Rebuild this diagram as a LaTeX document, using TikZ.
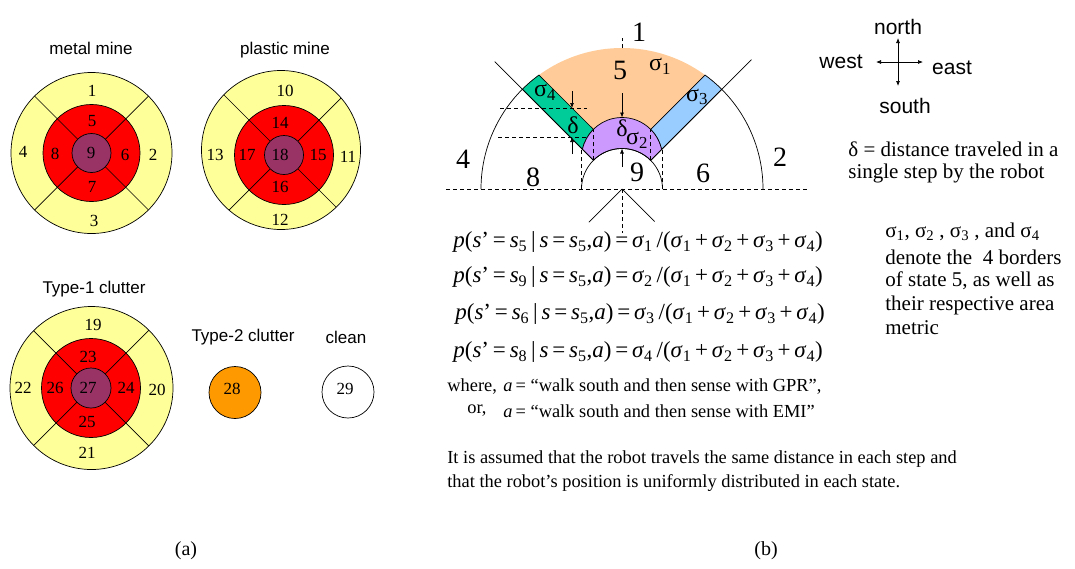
\documentclass[tikz,border=0pt]{standalone}
\usepackage{fontspec}
\setmainfont{Liberation Serif}
\newfontfamily\arialf{Liberation Sans}
\usetikzlibrary{arrows.meta}
\definecolor{ylw}{HTML}{FFFF99}
\definecolor{rd}{HTML}{FF0000}
\definecolor{prp}{HTML}{993366}
\definecolor{orng}{HTML}{FF9900}
\definecolor{peach}{HTML}{FFCC99}
\definecolor{grn}{HTML}{00CC99}
\definecolor{blu}{HTML}{99CCFF}
\definecolor{lav}{HTML}{CC99FF}
\newcommand{\fsz}[1]{\fontsize{#1}{#1}\selectfont}
\newcommand{\iv}[1]{\textit{#1}}
\newcommand{\mysub}[1]{\textsubscript{#1}}
\newcommand{\eqline}[2]{\iv{p}(\iv{s}'\,=\,\iv{s}\mysub{#1}\,|\,\iv{s}\,=\,\iv{s}\mysub{5},\iv{a})\,=\,\iv{σ}\mysub{#2}\,/(\iv{σ}\mysub{1}\,+\,\iv{σ}\mysub{2}\,+\,\iv{σ}\mysub{3}\,+\,\iv{σ}\mysub{4})}
% #1 outer centre, #2 outer r, #3 inner centre, #4 red r, #5 purple r
\newcommand{\minering}[5]{%
  \fill[ylw] #1 circle[radius=#2];
  \filldraw[fill=rd] #3 circle[radius=#4];
  \begin{scope}
    \clip #1 circle[radius=#2];
    \foreach \a in {45,135,225,315} \draw[shift={#3}] (\a:#5) -- (\a:120);
  \end{scope}
  \draw #1 circle[radius=#2];
  \filldraw[fill=prp] #3 circle[radius=#5];
}
\tikzset{
  num/.style={font=\fsz{17}, inner sep=0pt},
  ttl/.style={font=\arialf\fsz{17}, inner sep=0pt},
  big/.style={font=\fsz{28}, inner sep=0pt},
  sig/.style={font=\fsz{24}, inner sep=0pt},
  txt/.style={font=\fsz{21}, inner sep=0pt, anchor=west},
  eqn/.style={font=\fsz{23}, inner sep=0pt, anchor=west},
  btxt/.style={font=\fsz{18.4}, inner sep=0pt, anchor=west},
  cmp/.style={font=\arialf\fsz{21}, inner sep=0pt},
  dsh/.style={dash pattern=on 4pt off 3pt},
  arr/.style={-{Latex[length=5pt,width=4pt]}},
}
\begin{document}
\begin{tikzpicture}[x=1pt,y=-1pt,line width=0.7pt]
\useasboundingbox (0,0) rectangle (1075,568);
% ---------------- part (a) ----------------
\minering{(91.5,153)}{80.5}{(91.5,153)}{48.5}{19.5}
\minering{(281,150)}{79.5}{(284,155)}{49.5}{19.5}
\minering{(91.5,388)}{81.5}{(91,388)}{49.5}{20}
\filldraw[fill=orng] (235,392.5) circle[radius=26];
\draw (348,392) circle[radius=26];

\node[ttl] (tmetal) at (91,48) {metal mine};
\node[ttl] (tplastic) at (285,50) {plastic mine};
\node[ttl] (ttype1) at (94,289) {Type-1 clutter};
\node[ttl] (ttype2) at (243,337) {Type-2 clutter};
\node[ttl] (tclean) at (346,337) {clean};

\node[num] (n1) at (92,91) {1};
\node[num] (n5) at (92,121) {5};
\node[num] (n9) at (91,153) {9};
\node[num] (n8) at (55,154) {8};
\node[num] (n6) at (125,155) {6};
\node[num] (n4) at (23,152) {4};
\node[num] (n2) at (153,155) {2};
\node[num] (n7) at (92,187) {7};
\node[num] (n3) at (94,221) {3};

\node[num] (n10) at (285,91) {10};
\node[num] (n14) at (280,123) {14};
\node[num] (n13) at (215,155) {13};
\node[num] (n17) at (247,155) {17};
\node[num] (n18) at (280,155) {18};
\node[num] (n15) at (318,155) {15};
\node[num] (n11) at (348,157) {11};
\node[num] (n16) at (280,187) {16};
\node[num] (n12) at (280,220) {12};

\node[num] (n19) at (93,325) {19};
\node[num] (n23) at (88,357) {23};
\node[num] (n22) at (23,388) {22};
\node[num] (n26) at (55,388) {26};
\node[num] (n27) at (88,388) {27};
\node[num] (n24) at (126,388) {24};
\node[num] (n20) at (157,390) {20};
\node[num] (n25) at (87,422) {25};
\node[num] (n21) at (87,453) {21};
\node[num] (n28) at (232,389) {28};
\node[num] (n29) at (345,389) {29};

\node[font=\fsz{20}, inner sep=0pt] (la) at (186,551) {(a)};
\node[font=\fsz{20}, inner sep=0pt] (lb) at (766,551) {(b)};

% ---------------- part (b) ----------------
\begin{scope}[shift={(622,189)}, yscale=-1]
  \fill[peach] (45:40.5) -- (45:141) arc[start angle=45, end angle=135, radius=141]
     -- (135:40.5) arc[start angle=135, end angle=45, radius=40.5] -- cycle;
  \begin{scope}
    \clip (45:40.5) -- (45:141) arc[start angle=45, end angle=135, radius=141]
     -- (135:40.5) arc[start angle=135, end angle=45, radius=40.5] -- cycle;
    \fill[grn] (0,0) -- (-200,200) -- (-200,231) -- (0,31) -- cycle;
    \fill[blu] (0,0) -- (200,200) -- (200,231) -- (0,31) -- cycle;
  \end{scope}
  \draw (-39.58,39.58) -- (-99.70,99.70) arc[start angle=135, end angle=126.06, radius=141]
     -- (-28.64,59.64) arc[start angle=135, end angle=167.77, radius=40.5] -- cycle;
  \draw (39.58,39.58) -- (99.70,99.70) arc[start angle=45, end angle=53.94, radius=141]
     -- (28.64,59.64) arc[start angle=45, end angle=12.23, radius=40.5] -- cycle;
  \filldraw[fill=lav] (-39.58,39.58) -- (135:40.5) arc[start angle=135, end angle=45, radius=40.5]
     -- (39.58,39.58) arc[start angle=12.23, end angle=167.77, radius=40.5] -- cycle;
  \draw (40.5,0) arc[start angle=0, end angle=180, radius=40.5];
  \draw (141,0) arc[start angle=0, end angle=45, radius=141];
  \draw (-141,0) arc[start angle=180, end angle=135, radius=141];
  \draw (135:40.5) -- (135:180);
  \draw (45:40.5) -- (45:183);
  \coordinate (c0) at (0,0);
  \coordinate (cl) at (225:47);
  \coordinate (cr) at (315:46);
  \draw (c0) -- (cl);
  \draw (c0) -- (cr);
  \draw[dsh] (-176,0) -- (185,0);
  \draw[dsh] (0,141) -- (0,151);
  \draw[dsh] (c0) -- (0,-44);
  \draw[dsh] (-122,81) -- (-35,81);
  \draw[dsh] (-124,52) -- (-35,52);
  \draw[dsh] (-28.64,28.64) -- (-28.64,59.64);
  \draw[dsh] (28.64,28.64) -- (28.64,59.64);
  \draw[dsh] (-40.5,0) -- (-40.5,40.5);
  \draw[dsh] (40.5,0) -- (40.5,40.5);
  \draw[arr] (-50,98) -- (-50,81);
  \draw[arr] (-50,35) -- (-50,52);
  \draw[arr] (0,96) -- (0,71.5);
  \draw[arr] (0,22) -- (0,40.5);
\end{scope}

\node[big] (b1) at (639,32) {1};
\node[big] (b5) at (620,70) {5};
\node[big] (b4) at (463,159) {4};
\node[big] (b8) at (533,177) {8};
\node[big] (b9) at (637,172) {9};
\node[big] (b6) at (703,173) {6};
\node[big] (b2) at (780,157) {2};
\node[sig] (s1) at (660,66) {σ\mysub{1}};
\node[sig] (s4) at (545,92) {σ\mysub{4}};
\node[sig] (s3) at (697,97) {σ\mysub{3}};
\node[sig] (dg) at (573,125) {δ};
\node[sig] (dp) at (622,128) {δ};
\node[sig] (s2) at (637,140) {σ\mysub{2}};

% compass
\coordinate (cn) at (898,38);
\coordinate (cs) at (898,86);
\coordinate (cw) at (876,62);
\coordinate (ce) at (923,62);
\draw[{Latex[length=5pt,width=4pt]}-{Latex[length=5pt,width=4pt]}] (cn) -- (cs);
\draw[{Latex[length=5pt,width=4pt]}-{Latex[length=5pt,width=4pt]}] (cw) -- (ce);
\node[cmp] (north) at (898,27) {north};
\node[cmp] (west) at (841,62) {west};
\node[cmp] (east) at (952,68) {east};
\node[cmp] (south) at (905,106) {south};

\node[txt] (d1) at (848,149) {δ = distance traveled in a};
\node[txt] (d2) at (848,173) {single step by the robot};

\node[txt] (r1) at (885,232) {σ\mysub{1}, σ\mysub{2} , σ\mysub{3} , and σ\mysub{4}};
\node[txt] (r2) at (885,257) {denote the\ \ 4 borders};
\node[txt] (r3) at (885,281) {of state 5, as well as};
\node[txt] (r4) at (885,305) {their respective area};
\node[txt] (r5) at (885,328) {metric};

\node[eqn] (e1) at (453,242) {\eqline{5}{1}};
\node[eqn] (e2) at (453,277) {\eqline{9}{2}};
\node[eqn] (e3) at (455,314) {\eqline{6}{3}};
\node[eqn] (e4) at (453,352) {\eqline{8}{4}};

\node[btxt] (w1) at (447,387) {where,};
\node[btxt] (w2) at (503,387) {\iv{a}\,= “walk south and then sense with GPR”,};
\node[btxt] (o1) at (467,411) {or,};
\node[btxt] (o2) at (503,411) {\iv{a}\,= “walk south and then sense with EMI”};
\node[btxt] (t1) at (447,459) {It is assumed that the robot travels the same distance in each step and};
\node[btxt] (t2) at (447,483) {that the robot’s position is uniformly distributed in each state.};
\end{tikzpicture}
\end{document}
